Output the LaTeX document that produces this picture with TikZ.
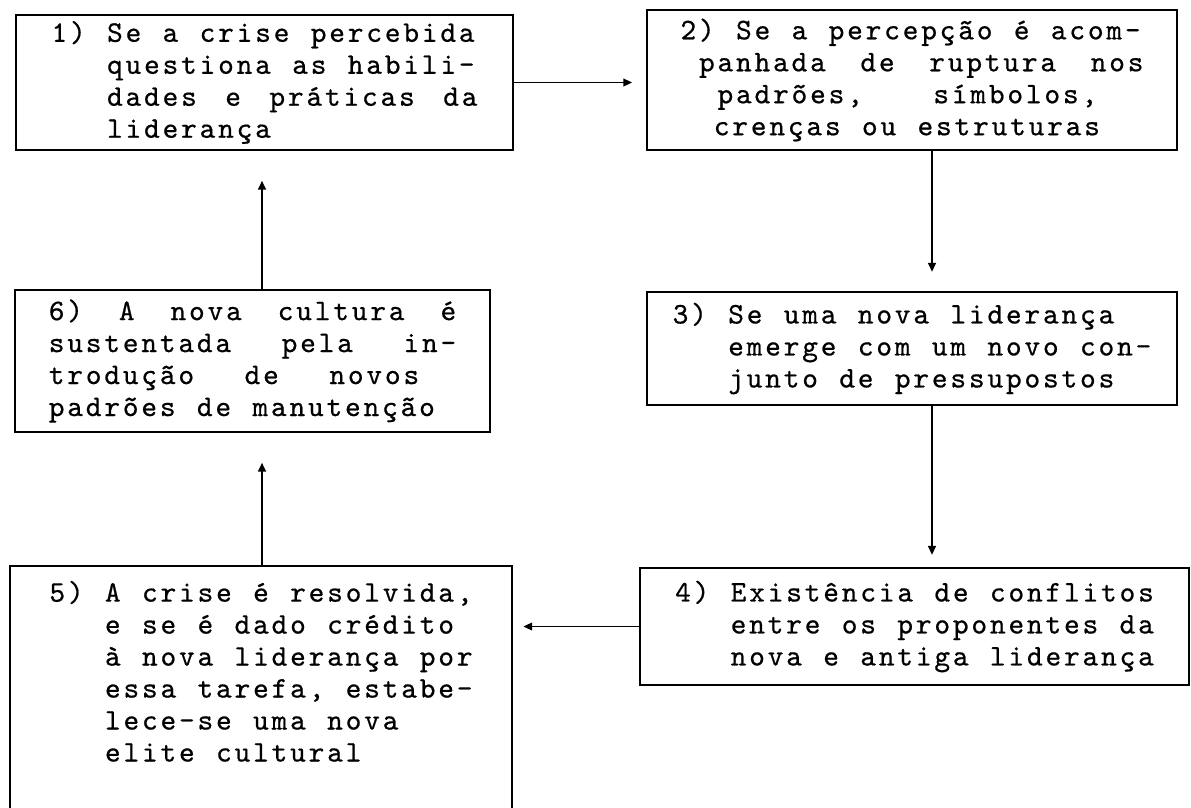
\documentclass[tikz,border=0pt]{standalone}
\usepackage{fontspec}
\usetikzlibrary{arrows.meta}

\newfontfamily\maquina[LetterSpace=9.5, FakeBold=0.6]{lmmono10-regular.otf}
\newlength{\cw}    % passo de um caractere
\newlength{\cwx}   % largura de um x
\newlength{\espaco} % espaco entre palavras
\newcommand{\fonte}{\maquina\fontsize{17}{18.2}\selectfont}
\AtBeginDocument{%
  \settowidth{\cwx}{\fonte x}\settowidth{\cw}{\fonte xx}\addtolength{\cw}{-\cwx}%
  \setlength{\espaco}{2\cw}\addtolength{\espaco}{-\cwx}}
\newcommand{\recuo}{\hspace*{3\cw}}
\newcommand{\estica}[2]{\makebox[#2\cw][s]{\spaceskip=1\espaco plus 1fil\relax #1}}

\begin{document}
\begin{tikzpicture}[x=0.02cm, y=-0.02cm,
  caixa/.style={draw, line width=1.1pt, align=left, inner sep=0pt,
    font={\fonte\spaceskip=1\espaco\relax}},
  seta/.style={line width=0.9pt, -{Triangle[length=5pt, width=4.5pt]}}]
\useasboundingbox (0,0) rectangle (1191,808);

% caixas
\node[caixa, minimum width=9.94cm, minimum height=2.7cm] (c1) at (264.5,82.5)
  {1) Se a crise percebida\\
   \recuo questiona as habili-\\
   \recuo\estica{dades e práticas da}{20}\\
   \recuo liderança}; % caixa 1
\node[caixa, minimum width=10.6cm, minimum height=2.8cm] (c2) at (912,80)
  {2) Se a percepção é acom-\\
   \hspace*{1\cw}\estica{panhada de ruptura nos}{24}\\
   \hspace*{2\cw}\estica{padrões, símbolos,}{20.5}\\
   \hspace*{1.8\cw}crenças ou estruturas}; % caixa 2
\node[caixa, minimum width=10.6cm, minimum height=2.26cm] (c3) at (912,348.5)
  {3) Se uma nova liderança\\
   \recuo emerge com um novo con-\\
   \recuo junto de pressupostos}; % caixa 3
\node[caixa, minimum width=10.98cm, minimum height=2.34cm] (c4) at (914.5,626.5)
  {4) Existência de conflitos\\
   \recuo entre os proponentes da\\
   \recuo nova e antiga liderança}; % caixa 4
\node[caixa, anchor=north, minimum width=10.04cm, inner ysep=8.5pt, text depth=70pt] (c5) at (261,565)
  {5) A crise é resolvida,\\
   \recuo e se é dado crédito\\
   \recuo à nova liderança por\\
   \recuo essa tarefa, estabe-\\
   \recuo lece-se uma nova\\
   \recuo elite cultural}; % caixa 5
\node[caixa, minimum width=9.5cm, minimum height=2.84cm] (c6) at (252.5,361)
  {\estica{6) A nova cultura é}{22}\\
   \estica{sustentada pela in-}{22}\\
   \estica{trodução de novos}{20}\\
   padrões de manutenção}; % caixa 6

% setas
\coordinate (xe) at (262,0); % eixo esquerdo
\coordinate (xd) at (932,0); % eixo direito
\draw[seta, shorten >=8pt] (c1.east) -- (c1.east -| c2.west); % 1 -> 2
\draw[seta, shorten >=11pt] (c2.south -| xd) -- (c3.north -| xd); % 2 -> 3
\draw[seta, shorten >=7pt] (c3.south -| xd) -- (c4.north -| xd); % 3 -> 4
\draw[seta, shorten >=6pt] (c4.west) -- (c4.west -| c5.east); % 4 -> 5
\draw[seta, shorten >=17pt] (c5.north -| xe) -- (c6.south -| xe); % 5 -> 6
\draw[seta, shorten >=17pt] (c6.north -| xe) -- (c1.south -| xe); % 6 -> 1

\end{tikzpicture}
\end{document}
